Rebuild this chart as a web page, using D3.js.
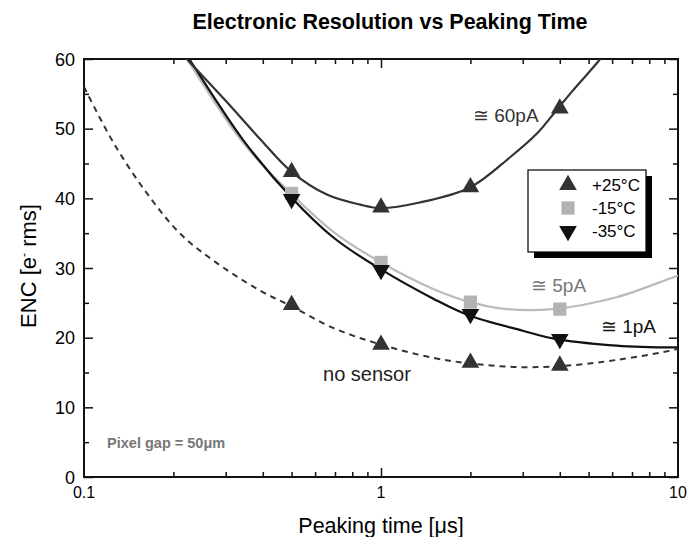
<!DOCTYPE html>
<html>
<head>
<meta charset="utf-8">
<script src="https://cdn.jsdelivr.net/npm/d3@7"></script>
<style>
  body { margin: 0; background: #fff; }
  text { font-family: "Liberation Sans", Arial, sans-serif; }
</style>
</head>
<body>
<script>
// measured points
const times = [0.5, 1, 2, 4];
const enc25 = [43.8, 38.7, 41.6, 52.9];
const enc15 = [40.7, 30.8, 25.1, 24.1];
const enc35 = [39.9, 29.7, 23.4, 19.8];
const encNoSensor = [24.7, 19.0, 16.4, 16.0];

// fitted curves
const fit60pA = [[0.192,63],[0.222,60],[0.3,54],[0.39,48.6],[0.5,43.8],[0.66,40.5],[0.85,39.1],[1,38.6],[1.35,39.4],[2,41.6],[2.72,45.9],[3.35,49.3],[3.94,52.9],[4.43,55.5],[5.47,60],[5.9,62]];
const fit5pA = [[0.2,63],[0.222,60],[0.343,48],[0.5,40.6],[0.7,35],[1,30.8],[1.5,27],[2,25.1],[2.65,24.1],[3.8,24.1],[6.2,25.8],[9.4,28.5],[10,28.9]];
const fit1pA = [[0.203,63],[0.226,60],[0.343,48.4],[0.5,40.1],[0.7,34.2],[1,29.8],[1.5,25.6],[1.95,23.3],[3,21],[3.79,19.9],[6,18.9],[9.2,18.6],[10,18.6]];
const fitNoSensor = [[0.1,56],[0.126,47.9],[0.163,40.7],[0.21,35],[0.272,31.1],[0.39,26.8],[0.5,24.5],[0.69,21.4],[1,19],[1.5,17.1],[2,16.3],[2.78,15.8],[4,15.9],[6.2,16.8],[9.6,18.2],[10,18.4]];

const xTicks = [0.1, 1, 10];
const yTicks = [0, 10, 20, 30, 40, 50, 60];
const legendLabels = ["+25°C", "-15°C", "-35°C"];

const W = 690, H = 537;
const margin = {top: 59, right: 12, bottom: 60, left: 84};
const width = W - margin.left - margin.right;   // 594
const height = H - margin.top - margin.bottom;  // 418

const svg = d3.select("body").append("svg")
    .attr("width", W)
    .attr("height", H);

// title
svg.append("text")
    .attr("x", 390).attr("y", 29)
    .attr("text-anchor", "middle")
    .style("font-size", "21.5px").style("font-weight", "bold")
    .text("Electronic Resolution vs Peaking Time");

const g = svg.append("g")
    .attr("transform", `translate(${margin.left},${margin.top})`);

const x = d3.scaleLog().domain([0.1, 10]).range([0, width]);
const y = d3.scaleLinear().domain([0, 60]).range([height, 0]);

g.append("clipPath").attr("id", "clip")
  .append("rect").attr("width", width).attr("height", height);

// minor tick values
const xMinor = [];
[0.1, 1].forEach(d => { for (let k = 2; k <= 9; k++) xMinor.push(d * k); });
const yMinor = [5, 15, 25, 35, 45, 55];

function ticks(axisGen, vals, size) {
    return axisGen.tickValues(vals).tickSize(size).tickFormat("");
}

// inside ticks on all sides
const tickG = g.append("g").attr("class", "ticks");
tickG.append("g").attr("transform", `translate(0,${height})`).call(ticks(d3.axisTop(x), xMinor, 5));
tickG.append("g").attr("transform", `translate(0,${height})`).call(ticks(d3.axisTop(x), [1], 9));
tickG.append("g").call(ticks(d3.axisBottom(x), xMinor, 5));
tickG.append("g").call(ticks(d3.axisBottom(x), [1], 9));
tickG.append("g").call(ticks(d3.axisRight(y), yMinor, 5));
tickG.append("g").call(ticks(d3.axisRight(y), yTicks, 9));
tickG.append("g").attr("transform", `translate(${width},0)`).call(ticks(d3.axisLeft(y), yMinor, 5));
tickG.append("g").attr("transform", `translate(${width},0)`).call(ticks(d3.axisLeft(y), yTicks, 9));
tickG.selectAll(".domain").remove();
tickG.selectAll("line").attr("stroke", "#111").attr("stroke-width", 1.5);

// frame
g.append("rect")
    .attr("width", width).attr("height", height)
    .attr("fill", "none").attr("stroke", "#111").attr("stroke-width", 2);

// tick labels
g.selectAll(".xlab").data(xTicks).join("text")
    .attr("x", d => x(d)).attr("y", height + 21)
    .attr("text-anchor", "middle")
    .style("font-size", "16px")
    .text(d => d);

g.selectAll(".ylab").data(yTicks).join("text")
    .attr("x", -9).attr("y", d => y(d) + 6.5)
    .attr("text-anchor", "end")
    .style("font-size", "18px")
    .text(d => d);

// axis titles
svg.append("text")
    .attr("x", margin.left + x(1)).attr("y", 533)
    .attr("text-anchor", "middle")
    .style("font-size", "21.5px")
    .text("Peaking time [μs]");

const yl = svg.append("text")
    .attr("transform", `translate(36,266) rotate(-90)`)
    .attr("text-anchor", "middle")
    .style("font-size", "22px");
yl.append("tspan").text("ENC [e");
yl.append("tspan").attr("dy", -8).style("font-size", "12px").text("-");
yl.append("tspan").attr("dy", 8).text(" rms]");

// curves
const line = d3.line()
    .x(d => x(d[0]))
    .y(d => y(d[1]))
    .curve(d3.curveCatmullRom.alpha(0.5));

const curves = g.append("g").attr("clip-path", "url(#clip)");
curves.append("path").datum(fitNoSensor).attr("d", line)
    .attr("fill", "none").attr("stroke", "#333").attr("stroke-width", 2)
    .attr("stroke-dasharray", "6,5");
curves.append("path").datum(fit5pA).attr("d", line)
    .attr("fill", "none").attr("stroke", "#bbb").attr("stroke-width", 2.2);
curves.append("path").datum(fit1pA).attr("d", line)
    .attr("fill", "none").attr("stroke", "#111").attr("stroke-width", 2.2);
curves.append("path").datum(fit60pA).attr("d", line)
    .attr("fill", "none").attr("stroke", "#333").attr("stroke-width", 2.2);

// markers
const triUp = d3.symbol().type(d3.symbolTriangle).size(135);
const triDown = d3.symbol().type(d3.symbolTriangle).size(135);
const square = d3.symbol().type(d3.symbolSquare).size(175);

function drawMarkers(vals, sym, color, rot) {
    g.append("g").selectAll("path").data(times).join("path")
        .attr("d", sym())
        .attr("transform", (d, i) => `translate(${x(d)},${y(vals[i])}) rotate(${rot})`)
        .attr("fill", color);
}
drawMarkers(encNoSensor, triUp, "#333", 0);
drawMarkers(enc15, square, "#b3b3b3", 0);
drawMarkers(enc35, triDown, "#111", 180);
drawMarkers(enc25, triUp, "#333", 0);

// curve labels
const ann = [
    {t: "≅ 60pA", px: 2.04, py: 51.0, c: "#333"},
    {t: "≅ 5pA", px: 3.2, py: 26.6, c: "#777"},
    {t: "≅ 1pA", px: 5.5, py: 20.6, c: "#111"},
    {t: "no sensor", px: 0.638, py: 13.8, c: "#222"}
];
g.selectAll(".ann").data(ann).join("text")
    .attr("x", d => x(d.px)).attr("y", d => y(d.py))
    .attr("fill", d => d.c)
    .style("font-size", d => d.t === "no sensor" ? "20px" : "19px")
    .text(d => d.t);

g.append("text")
    .attr("x", x(0.1196)).attr("y", y(4.2))
    .attr("fill", "#777")
    .style("font-size", "14.5px").style("font-weight", "bold")
    .text("Pixel gap = 50μm");

// legend
const lg = svg.append("g").attr("transform", "translate(528,170)");
lg.append("rect").attr("x", 6).attr("y", 6).attr("width", 118).attr("height", 82).attr("fill", "#000");
lg.append("rect").attr("width", 118).attr("height", 82)
    .attr("fill", "#fff").attr("stroke", "#000").attr("stroke-width", 1.2);
const legendSyms = [[triUp, "#333", 0], [square, "#b3b3b3", 0], [triDown, "#111", 180]];
legendLabels.forEach((lab, i) => {
    const yy = 15 + i * 23;
    lg.append("path")
        .attr("d", legendSyms[i][0]())
        .attr("transform", `translate(40,${yy}) rotate(${legendSyms[i][2]})`)
        .attr("fill", legendSyms[i][1]);
    lg.append("text")
        .attr("x", 64).attr("y", yy + 6)
        .style("font-size", "17px")
        .text(lab);
});
</script>
</body>
</html>
